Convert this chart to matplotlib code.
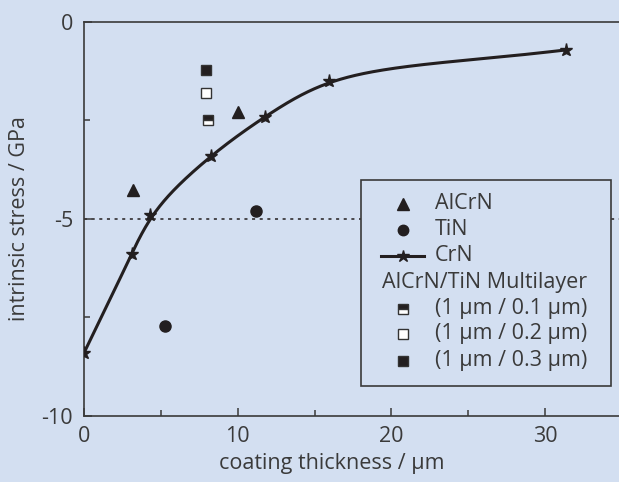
import numpy as np
import matplotlib
matplotlib.use("Agg")
import matplotlib.pyplot as plt
from matplotlib.patches import Rectangle

# Coating thickness (µm) and intrinsic stress (GPa)
crn_thickness = [0.0, 3.1, 4.3, 8.25, 11.8, 15.95, 31.35]
crn_stress = [-8.4, -5.9, -4.9, -3.4, -2.4, -1.5, -0.71]

alcrn_thickness = [3.2, 10.0]
alcrn_stress = [-4.26, -2.28]

tin_thickness = [5.3, 11.2]
tin_stress = [-7.72, -4.8]

ml_labels = ["(1 µm / 0.1 µm)", "(1 µm / 0.2 µm)", "(1 µm / 0.3 µm)"]
ml_thickness = [8.1, 7.95, 7.93]
ml_stress = [-2.5, -1.8, -1.21]

x_ticks = [0, 10, 20, 30]
y_ticks = [0, -5, -10]
reference_stress = -5

BG = "#D3DFF1"
INK = "#231F20"
AXC = "#3A3A3A"
TXT = "#3A3A3A"

plt.rcParams["font.family"] = ["Open Sans", "DejaVu Sans"]

fig = plt.figure(figsize=(6.19, 4.82), dpi=100, facecolor=BG)
ax = fig.add_axes([0.1357, 0.137, 0.869, 0.8174])
ax.set_facecolor(BG)

# screen-like scaling of the axes (pixels per µm and per GPa)
SX, SY = 15.37, 39.4


def catmull_rom(P, n=60, alpha=0.5):
    """Centripetal Catmull-Rom polyline through the rows of P."""
    P = np.vstack([2 * P[0] - P[1], P, 2 * P[-1] - P[-2]])
    out = []
    for i in range(1, len(P) - 2):
        p0, p1, p2, p3 = P[i - 1], P[i], P[i + 1], P[i + 2]
        t0 = 0.0
        t1 = t0 + np.linalg.norm(p1 - p0) ** alpha
        t2 = t1 + np.linalg.norm(p2 - p1) ** alpha
        t3 = t2 + np.linalg.norm(p3 - p2) ** alpha
        t = np.linspace(t1, t2, n)[:, None]
        a1 = (t1 - t) / (t1 - t0) * p0 + (t - t0) / (t1 - t0) * p1
        a2 = (t2 - t) / (t2 - t1) * p1 + (t - t1) / (t2 - t1) * p2
        a3 = (t3 - t) / (t3 - t2) * p2 + (t - t2) / (t3 - t2) * p3
        b1 = (t2 - t) / (t2 - t0) * a1 + (t - t0) / (t2 - t0) * a2
        b2 = (t3 - t) / (t3 - t1) * a2 + (t - t1) / (t3 - t1) * a3
        out.append((t2 - t) / (t2 - t1) * b1 + (t - t1) / (t2 - t1) * b2)
    return np.vstack(out)


def smooth_curve(x, y, sigma=26.0, step=0.5):
    """Catmull-Rom through the points, then Gaussian-smoothed along its length."""
    P = np.column_stack([np.asarray(x, float) * SX, np.asarray(y, float) * SY])
    C = catmull_rom(P)
    s = np.concatenate([[0], np.cumsum(np.linalg.norm(np.diff(C, axis=0), axis=1))])
    u = np.arange(0, s[-1], step)
    R = np.column_stack([np.interp(u, s, C[:, 0]), np.interp(u, s, C[:, 1])])
    k = int(4 * sigma / step)
    head = 2 * R[0] - R[1:k + 1][::-1]
    tail = 2 * R[-1] - R[-k - 1:-1][::-1]
    E = np.vstack([head, R, tail])
    g = np.arange(-k, k + 1) * step
    w = np.exp(-0.5 * (g / sigma) ** 2)
    w /= w.sum()
    xs = np.convolve(E[:, 0], w, mode="valid")
    ys = np.convolve(E[:, 1], w, mode="valid")
    return xs / SX, ys / SY


# dotted reference level
ax.axhline(reference_stress, color=INK, lw=1.1, ls=(0, (2, 3)), zorder=1)

# CrN curve with star markers
cx, cy = smooth_curve(crn_thickness, crn_stress)
ax.plot(cx, cy, color=INK, lw=2.2, zorder=3, solid_capstyle="round")
ax.plot(crn_thickness, crn_stress, ls="none", marker="*", ms=9.5, color=INK, zorder=4)

ax.plot(alcrn_thickness, alcrn_stress, ls="none", marker="^", ms=9, color=INK, zorder=4)
ax.plot(tin_thickness, tin_stress, ls="none", marker="o", ms=8, color=INK, zorder=4)

ml_styles = [
    dict(marker="s", fillstyle="top", markerfacecoloralt="white"),
    dict(marker="s", markerfacecolor="white"),
    dict(marker="s", markerfacecolor=INK),
]
for xv, yv, st in zip(ml_thickness, ml_stress, ml_styles):
    ax.plot([xv], [yv], ls="none", ms=6.5, color=INK, markeredgecolor="#333333",
            markeredgewidth=1.0, zorder=4, **st)

fs = 15.5

ax.set_xlim(0, 35)
ax.set_ylim(-10, 0)
ax.set_xticks(x_ticks)
ax.set_xticks([5, 15, 25], minor=True)
ax.set_yticks(y_ticks)
ax.set_yticks([-2.5, -7.5], minor=True)
ax.set_yticklabels([str(v) for v in y_ticks])
ax.tick_params(axis="both", which="major", direction="in", length=6, width=1.1,
               color=AXC, labelsize=fs, labelcolor=TXT, pad=8)
ax.tick_params(axis="both", which="minor", direction="in", length=4, width=1.1, color=AXC)
ax.tick_params(axis="x", which="major", pad=7)
for s in ["left", "bottom", "top"]:
    ax.spines[s].set_color(AXC)
    ax.spines[s].set_linewidth(1.2)
ax.spines["right"].set_visible(False)

ax.set_xlabel("coating thickness / µm", fontsize=fs, color=TXT)
ax.xaxis.set_label_coords(0.461, -0.093)
ax.set_ylabel("intrinsic stress / GPa", fontsize=fs, color=TXT, labelpad=8)

# legend panel
tA = ax.transAxes
lx0, ly0, lw, lh = 0.5145, 0.0762, 0.4654, 0.523
ax.add_patch(Rectangle((lx0, ly0), lw, lh, transform=tA, facecolor=BG,
                       edgecolor=AXC, lw=1.2, zorder=6))
mx = 0.5145 + (404 - 362) / 538
tx = 0.5145 + (436 - 362) / 538
hx = 0.5145 + (383 - 362) / 538


def row_y(py):
    return (416 - py) / 394


ax.plot([mx], [row_y(204)], transform=tA, marker="^", ms=8.5, color=INK, ls="none", zorder=7)
ax.text(tx, row_y(204), "AlCrN", transform=tA, fontsize=fs, color=TXT, va="center", zorder=7)
ax.plot([mx], [row_y(230)], transform=tA, marker="o", ms=7.5, color=INK, ls="none", zorder=7)
ax.text(tx, row_y(230), "TiN", transform=tA, fontsize=fs, color=TXT, va="center", zorder=7)
ax.plot([hx - 0.001, mx + (mx - hx)], [row_y(256)] * 2, transform=tA, color=INK, lw=2.2, zorder=7)
ax.plot([mx], [row_y(256)], transform=tA, marker="*", ms=9, color=INK, ls="none", zorder=8)
ax.text(tx, row_y(256), "CrN", transform=tA, fontsize=fs, color=TXT, va="center", zorder=7)
ax.text(hx, row_y(283), "AlCrN/TiN Multilayer", transform=tA, fontsize=fs, color=TXT,
        va="center", zorder=7)
for py, lab, st in zip([309, 334, 361], ml_labels, ml_styles):
    ax.plot([mx], [row_y(py)], transform=tA, ls="none", ms=6.5, color=INK,
            markeredgecolor="#333333", markeredgewidth=1.0, zorder=7, **st)
    ax.text(tx, row_y(py), lab, transform=tA, fontsize=fs, color=TXT, va="center", zorder=7)

fig.savefig("out.png", dpi=100, facecolor=BG)
